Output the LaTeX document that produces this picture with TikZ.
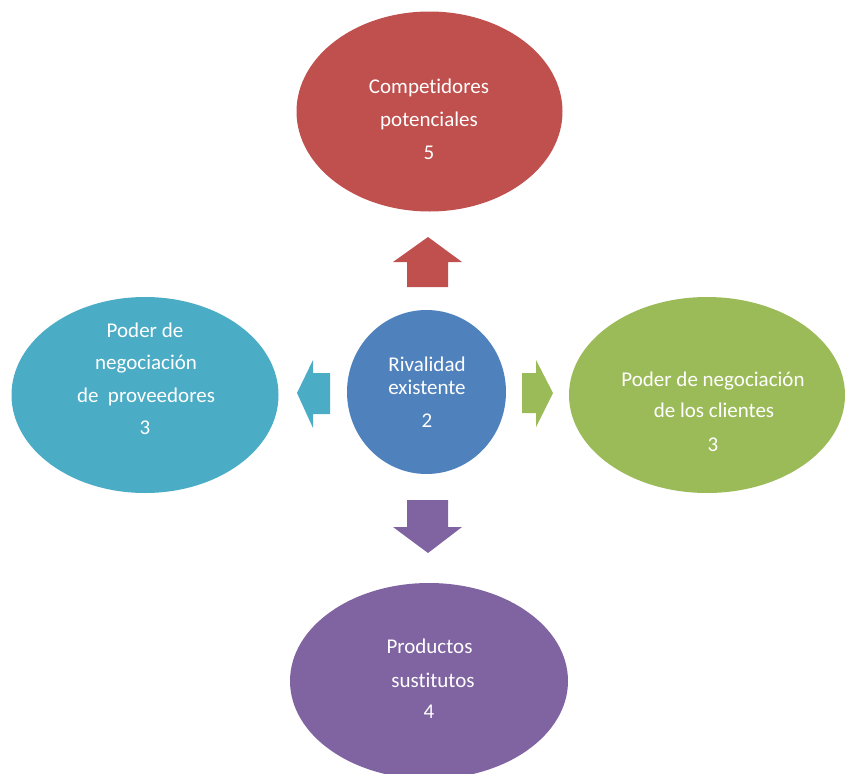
\documentclass[tikz,border=0pt]{standalone}
\usepackage{fontspec}
\setmainfont{Carlito}[Ligatures={NoCommon}]
\usetikzlibrary{shapes.geometric}
\definecolor{cred}{HTML}{C0504D}
\definecolor{caqua}{HTML}{4BACC6}
\definecolor{cgreen}{HTML}{9BBB59}
\definecolor{cpurple}{HTML}{8064A2}
\definecolor{cblue}{HTML}{4F81BD}
\tikzset{
  oval/.style={ellipse, inner sep=0pt, draw=none},
  txt/.style={anchor=base, inner sep=0pt, text=white, font=\fontsize{21}{25}\selectfont},
  blockarrow/.style={draw=none}
}
\begin{document}
\begin{tikzpicture}[x=1pt,y=-1pt]
\useasboundingbox (0,0) rectangle (847,774);
% ellipses
\node[oval, fill=cred, minimum width=266pt, minimum height=200pt] (top) at (429.5,111.5) {};
\node[oval, fill=caqua, minimum width=267pt, minimum height=196pt] (left) at (145,395) {};
\node[oval, fill=cgreen, minimum width=276pt, minimum height=196pt] (right) at (707,395) {};
\node[oval, fill=cpurple, minimum width=278pt, minimum height=196pt] (bottom) at (429,681) {};
\node[oval, fill=cblue, minimum width=159pt, minimum height=164pt] (center) at (426.5,392) {};
% arrows
\fill[cred] (428,237) -- (462,262) -- (448,262) -- (448,287) -- (407,287) -- (407,262) -- (393,262) -- cycle;
\fill[caqua] (297,393) -- (313,360) -- (313,373) -- (330,373) -- (330,414) -- (313,414) -- (313,428) -- cycle;
\fill[cgreen] (553,393) -- (536,360) -- (536,373) -- (522,373) -- (522,413) -- (536,413) -- (536,427) -- cycle;
\fill[cpurple] (428,553) -- (462,527) -- (448,527) -- (448,500) -- (407,500) -- (407,527) -- (393,527) -- cycle;
% texts
\node[txt] (t1) at (429,93) {Competidores};
\node[txt] (t2) at (429,126) {potenciales};
\node[txt] (t3) at (429,159) {5};
\node[txt] (l1) at (145,337) {Poder de};
\node[txt] (l2) at (146,369) {negociación};
\node[txt] (l3) at (146,402) {de\ \ proveedores};
\node[txt] (l4) at (145,434) {3};
\node[txt] (c1) at (427,371) {Rivalidad};
\node[txt] (c2) at (427,394) {existente};
\node[txt] (c3) at (427,427) {2};
\node[txt] (r1) at (713,386) {Poder de negociación};
\node[txt] (r2) at (714,417) {de los clientes};
\node[txt] (r3) at (713,451) {3};
\node[txt] (b1) at (429.5,653) {Productos};
\node[txt] (b2) at (433,687) {sustitutos};
\node[txt] (b3) at (429,718) {4};
\end{tikzpicture}
\end{document}
